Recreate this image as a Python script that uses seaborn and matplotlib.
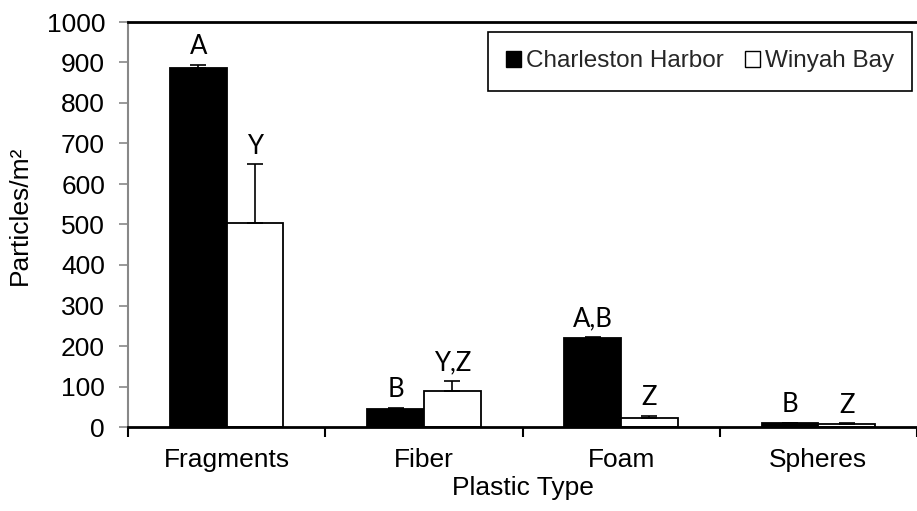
import matplotlib
matplotlib.use("Agg")
import matplotlib.pyplot as plt
import matplotlib.patches as mpatches
from matplotlib.ticker import FixedLocator, NullFormatter
import seaborn as sns
import pandas as pd

# Mean particle densities (particles/m^2) by plastic type and estuary
plastic_types = ["Fragments", "Fiber", "Foam", "Spheres"]
sites = ["Charleston Harbor", "Winyah Bay"]
charleston_mean = [886, 44, 220, 10]
winyah_mean = [503, 90, 23, 8]
charleston_se = [8, 3, 3, 1]
winyah_se = [146, 24, 5, 1]
charleston_letters = ["A", "B", "A,B", "B"]
winyah_letters = ["Y", "Y,Z", "Z", "Z"]
y_ticks = [0, 100, 200, 300, 400, 500, 600, 700, 800, 900, 1000]

df = pd.DataFrame({
    "Plastic Type": plastic_types * 2,
    "Site": [sites[0]] * 4 + [sites[1]] * 4,
    "Particles": charleston_mean + winyah_mean,
})

sns.set_theme(style="white")
plt.rcParams["font.family"] = ["Liberation Sans", "DejaVu Sans"]

fig = plt.figure(figsize=(9.17, 5.11), dpi=100)
ax = fig.add_axes([128 / 917, 1 - 427 / 511, 789 / 917, 405 / 511])

sns.barplot(
    data=df, x="Plastic Type", y="Particles", hue="Site",
    hue_order=sites, order=plastic_types,
    palette=["black", "white"], edgecolor="black", linewidth=1.3,
    width=0.575, gap=0, errorbar=None, legend=False, ax=ax,
)

# One-sided error bars and significance letters above each bar
for container, errs, letters in zip(ax.containers,
                                    [charleston_se, winyah_se],
                                    [charleston_letters, winyah_letters]):
    for bar, err, letter in zip(container, errs, letters):
        xc = bar.get_x() + bar.get_width() / 2
        h = bar.get_height()
        ax.errorbar(xc, h, yerr=[[0], [err]], fmt="none", ecolor="black",
                    elinewidth=1.2, capsize=6, capthick=1.2, zorder=3)
        ax.annotate(letter, (xc, h + err), xytext=(0, 4),
                    textcoords="offset points", ha="center", va="bottom",
                    fontsize=18.5, family=["Lato", "DejaVu Sans"], color="black")

ax.set_xlim(-0.5, 3.5)
ax.set_ylim(0, 1000)
ax.set_yticks(y_ticks)
ax.set_yticklabels([str(t) for t in y_ticks])

# Category boundary ticks on the x axis
ax.xaxis.set_minor_locator(FixedLocator([-0.5, 0.5, 1.5, 2.5, 3.5]))
ax.xaxis.set_minor_formatter(NullFormatter())
ax.tick_params(axis="x", which="major", length=0, pad=15, labelsize=19, colors="black")
ax.tick_params(axis="x", which="minor", length=7, width=1.5, color="black", bottom=True)
ax.tick_params(axis="y", which="major", length=6.5, width=1.2, color="#888888",
               left=True, labelsize=19, labelcolor="black", pad=10)

ax.set_xlabel("Plastic Type", fontsize=19, color="black", labelpad=3)
ax.set_ylabel("Particles/m²", fontsize=19, color="black")
ax.yaxis.set_label_coords(-0.122, 0.523)

ax.spines["right"].set_visible(False)
ax.spines["left"].set_color("#888888")
ax.spines["left"].set_linewidth(1.5)
ax.spines["bottom"].set_color("black")
ax.spines["bottom"].set_linewidth(2)
ax.spines["top"].set_color("black")
ax.spines["top"].set_linewidth(2)

handles = [
    mpatches.Patch(facecolor="black", edgecolor="black", label=sites[0]),
    mpatches.Patch(facecolor="white", edgecolor="black", label=sites[1]),
]
leg = ax.legend(handles=handles, ncol=2, loc="upper right",
                bbox_to_anchor=(0.9937, 0.975), fontsize=17.5, frameon=True,
                fancybox=False, edgecolor="black", framealpha=1,
                handlelength=0.6, handleheight=0.6, handletextpad=0.2,
                columnspacing=0.9, borderpad=0.75, borderaxespad=0)
leg.get_frame().set_linewidth(1.2)

fig.savefig("out.png", dpi=100, facecolor="white")
